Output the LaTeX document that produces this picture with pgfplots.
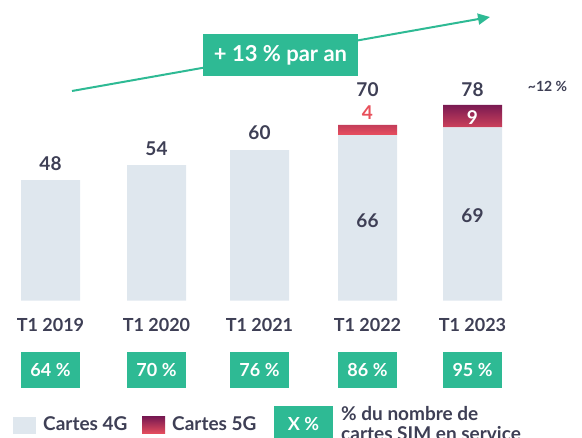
\documentclass[border=0pt]{standalone}
\usepackage{pgfplots}
\pgfplotsset{compat=1.18}
\usetikzlibrary{arrows.meta}
\usepackage{fontspec}
\setmainfont{Lato}
\definecolor{txt}{HTML}{3E3F55}
\definecolor{grn}{HTML}{2EBA94}
\definecolor{bar4}{HTML}{DFE7EE}
\definecolor{gtop}{HTML}{7A1A52}
\definecolor{gbot}{HTML}{E94F5E}
\definecolor{redlab}{HTML}{E8505B}
\begin{document}
\begin{tikzpicture}
\begin{axis}[
  scale only axis, width=582pt, height=438pt,
  xmin=0, xmax=582, ymin=-54.7, ymax=119.8,
  hide axis, clip=false,
  ybar stacked, bar width=59,
]
\addplot[draw=none, fill=bar4] coordinates {(50.5,48) (156.5,54) (259.5,60) (367.5,66) (472.5,69)};
\addplot[draw=none, top color=gtop, bottom color=gbot] coordinates {(50.5,0) (156.5,0) (259.5,0) (367.5,4) (472.5,9)};
\end{axis}
\begin{scope}[shift={(current axis.south west)}, x=1pt, y=1pt]
% growth arrow
\draw[grn, line width=2pt, -{Triangle[length=12pt,width=11pt]}] (72,347) -- (490,421);
\node[fill=grn, text=white, font=\bfseries\fontsize{22}{24}\selectfont, minimum width=155pt, minimum height=42pt, inner sep=0pt] at (280.5,383) {+ 13 \% par an};

% totals
\tikzset{tot/.style={text=txt, font=\bfseries\fontsize{19}{21}\selectfont, inner sep=0pt}}
\node[tot] at (50.5,274) {48};
\node[tot] at (156.5,289.5) {54};
\node[tot] at (259.5,305) {60};
\node[tot] at (367.5,348.5) {70};
\node[tot] at (472.5,348.5) {78};
\node[tot, text=redlab] at (367.5,325) {4};
\node[tot, text=white] at (472.5,320.3) {9};
\node[tot] at (367.5,217.3) {66};
\node[tot] at (472.5,222) {69};
\node[text=txt, font=\bfseries\fontsize{14}{16}\selectfont, inner sep=0pt] at (547.5,352) {\textasciitilde12 \%};

% category labels
\tikzset{cat/.style={text=txt, font=\bfseries\fontsize{18}{20}\selectfont, inner sep=0pt}}
\node[cat] at (50.5,112.5) {T1 2019};
\node[cat] at (156.5,112.5) {T1 2020};
\node[cat] at (259.5,112.5) {T1 2021};
\node[cat] at (367.5,112.5) {T1 2022};
\node[cat] at (472.5,112.5) {T1 2023};

% percent boxes
\tikzset{pbox/.style={fill=grn, text=white, font=\bfseries\fontsize{18}{20}\selectfont, minimum width=59pt, minimum height=36pt, inner sep=0pt}}
\node[pbox] at (50.5,68) {64 \%};
\node[pbox] at (156.5,68) {70 \%};
\node[pbox] at (259.5,68) {76 \%};
\node[pbox] at (367.5,68) {86 \%};
\node[pbox] at (472.5,68) {95 \%};

% legend
\tikzset{leg/.style={text=txt, font=\bfseries\fontsize{19}{21}\selectfont, inner sep=0pt, anchor=base west}}
\fill[bar4] (13,21) rectangle (36,4);
\node[leg] at (43,7) {Cartes 4G};
\shade[top color=gtop, bottom color=gbot] (142,21) rectangle (165,4);
\node[leg] at (172,7) {Cartes 5G};
\node[pbox] at (303.5,14) {X \%};
\node[leg] at (341,17) {\% du nombre de};
\node[leg] at (341,-3) {cartes SIM en service};
\end{scope}
\pgfresetboundingbox
\useasboundingbox (current axis.south west) rectangle (current axis.north east);
\end{tikzpicture}
\end{document}
